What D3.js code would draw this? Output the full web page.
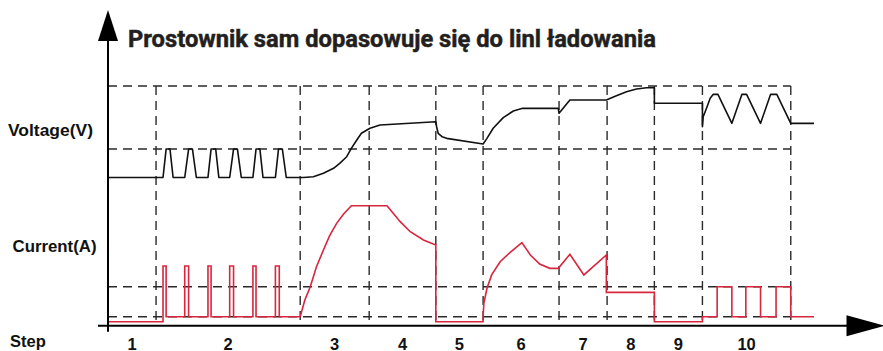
<!DOCTYPE html>
<html>
<head>
<meta charset="utf-8">
<script src="https://cdn.jsdelivr.net/npm/d3@7"></script>
<style>
  html, body { margin: 0; padding: 0; background: #ffffff; }
  svg { display: block; }
</style>
</head>
<body>
<svg id="chart" width="883" height="351"></svg>
<script>
// Charging step boundaries (time units) and their labels
const stepBounds = [0, 6.2, 24.8, 33.7, 42.3, 48.4, 58.2, 64.4, 70.5, 76.7, 88.1];
const stepLabels = ["1", "2", "3", "4", "5", "6", "7", "8", "9", "10"];

// Reference levels (relative %) for the dashed guide lines
const voltageRefLevels = [31.1, 100];
const currentRefLevels = [7.5, 32.5];

// Voltage profile: [time, relative level]
const voltage = [
  [0, 0], [7.1, 0], [7.5, 31.1], [8.0, 31.1], [8.4, 0],
  [9.9, 0], [10.4, 31.1], [10.9, 31.1], [11.4, 0],
  [12.9, 0], [13.3, 31.1], [13.9, 31.1], [14.3, 0],
  [15.7, 0], [16.2, 31.1], [16.7, 31.1], [17.2, 0],
  [18.7, 0], [19.1, 31.1], [19.6, 31.1], [20.0, 0],
  [21.6, 0], [22.0, 31.1], [22.5, 31.1], [23.0, 0],
  [25.2, 0], [26.5, 0.9], [27.8, 4.6], [29.1, 10.1], [29.9, 15.5], [30.8, 22.7],
  [31.4, 31.9], [32.1, 41.0], [32.7, 48.3], [33.8, 53.8], [35.1, 57.4],
  [42.3, 61.0], [42.4, 55.5], [42.6, 48.3], [43.1, 44.6], [43.7, 42.8], [48.4, 36.6],
  [48.9, 42.8], [49.7, 53.8], [51.0, 65.4], [52.3, 72.7], [53.5, 75.6], [58.1, 75.6],
  [58.2, 70.2], [59.6, 84.7], [64.3, 84.7], [65.6, 89.4], [66.9, 93.8], [68.2, 96.7],
  [69.5, 98.1], [70.5, 98.1], [70.5, 81.1], [76.7, 81.1], [76.7, 55.5], [76.8, 66.4],
  [77.3, 77.4], [77.7, 86.6], [78.1, 90.9], [78.7, 90.9], [80.5, 59.2], [81.8, 90.9],
  [82.4, 90.9], [84.2, 59.2], [85.5, 90.9], [86.3, 90.9], [88.1, 59.2], [91.1, 59.2]
];

// Current profile: [time, relative level]
const current = [
  [0, 3.3], [7.1, 3.3], [7.1, 49.8], [7.5, 49.8], [7.5, 7.5],
  [9.9, 7.5], [9.9, 49.8], [10.4, 49.8], [10.4, 7.5],
  [12.9, 7.5], [12.9, 49.8], [13.3, 49.8], [13.3, 7.5],
  [15.7, 7.5], [15.7, 49.8], [16.2, 49.8], [16.2, 7.5],
  [18.7, 7.5], [18.7, 49.8], [19.1, 49.8], [19.1, 7.5],
  [21.6, 7.5], [21.6, 49.8], [22.1, 49.8], [22.1, 7.5],
  [24.8, 7.5], [25.4, 21.4], [26.1, 32.5], [26.9, 49.2], [27.8, 63.1], [28.6, 75],
  [29.5, 85.3], [30.4, 93.1], [31.4, 100],
  [36.0, 100], [36.8, 93.7], [37.7, 86.7], [39.0, 78.3], [40.7, 71.4], [42.3, 67.3], [42.3, 3.3],
  [48.4, 3.3], [48.4, 7.5], [48.5, 18.7], [48.9, 31.2], [49.5, 42.3], [50.6, 53.3],
  [51.9, 61.2], [53.4, 69.2], [54.5, 58.9], [55.7, 51.4], [57.0, 47.8], [58.1, 47.8],
  [59.6, 59.5], [61.4, 42.3], [64.3, 58.9], [64.3, 27.8],
  [70.5, 27.8], [70.5, 3.3], [76.7, 3.3], [76.7, 7.5], [78.6, 7.5], [78.6, 32.5],
  [80.5, 32.5], [80.5, 7.5], [82.3, 7.5], [82.3, 32.5], [84.2, 32.5], [84.2, 7.5],
  [86.2, 7.5], [86.2, 32.5], [88.1, 32.5], [88.1, 7.5], [91.1, 7.5]
];

const titleText = "Prostownik sam dopasowuje się do linl ładowania";

const svg = d3.select("#chart");

// Scales: shared time axis, separate panels for voltage and current
const x = d3.scaleLinear().domain([0, 100]).range([108, 883]);
const yV = d3.scaleLinear().domain([0, 100]).range([177.5, 86]);
const yI = d3.scaleLinear().domain([0, 100]).range([325.7, 205.7]);

const tEnd = stepBounds[stepBounds.length - 1];
const guide = svg.append("g")
  .attr("fill", "none")
  .attr("stroke", "#2a2a2a")
  .attr("stroke-width", 1.4)
  .attr("stroke-dasharray", "9,6");

// Horizontal guide lines
guide.selectAll("line.v-ref")
  .data(voltageRefLevels)
  .join("line")
  .attr("class", "v-ref")
  .attr("x1", x(0)).attr("x2", x(tEnd))
  .attr("y1", d => yV(d)).attr("y2", d => yV(d));

guide.selectAll("line.i-ref")
  .data(currentRefLevels)
  .join("line")
  .attr("class", "i-ref")
  .attr("x1", x(0)).attr("x2", x(tEnd))
  .attr("y1", d => yI(d)).attr("y2", d => yI(d));

// Vertical step separators
guide.selectAll("line.step")
  .data(stepBounds.slice(1))
  .join("line")
  .attr("class", "step")
  .attr("x1", d => x(d)).attr("x2", d => x(d))
  .attr("y1", yV(100)).attr("y2", yI(0));

// Waveforms
svg.append("path")
  .datum(current)
  .attr("fill", "none")
  .attr("stroke", "#d7263d")
  .attr("stroke-width", 1.6)
  .attr("stroke-linejoin", "miter")
  .attr("d", d3.line().x(d => x(d[0])).y(d => yI(d[1])));

svg.append("path")
  .datum(voltage)
  .attr("fill", "none")
  .attr("stroke", "#111")
  .attr("stroke-width", 1.6)
  .attr("stroke-linejoin", "round")
  .attr("d", d3.line().x(d => x(d[0])).y(d => yV(d[1])));

// Axes with arrowheads
const axes = svg.append("g");
const x0 = x(0), yBase = yI(0);
axes.append("line")
  .attr("x1", x0).attr("x2", x0)
  .attr("y1", 38).attr("y2", yBase + 6)
  .attr("stroke", "#000").attr("stroke-width", 2);
axes.append("path")
  .attr("d", `M${x0},10 L${x0 - 10},41 L${x0 + 10},41 Z`)
  .attr("fill", "#000");
axes.append("line")
  .attr("x1", x0 - 10).attr("x2", 850)
  .attr("y1", yBase).attr("y2", yBase)
  .attr("stroke", "#000").attr("stroke-width", 2);
axes.append("path")
  .attr("d", `M885,${yBase} L846.5,${yBase - 10.5} L846.5,${yBase + 10.5} Z`)
  .attr("fill", "#000");

// Title
svg.append("text")
  .attr("x", 128)
  .attr("y", 46.8)
  .attr("font-family", "Roboto, 'Open Sans', sans-serif")
  .attr("font-weight", 700)
  .attr("font-size", 24.5)
  .attr("fill", "#231f20")
  .attr("stroke", "#231f20")
  .attr("stroke-width", 0.5)
  .attr("textLength", 528)
  .attr("lengthAdjust", "spacingAndGlyphs")
  .text(titleText);

// Panel labels
const labelFont = "'Liberation Sans', Arial, sans-serif";
svg.append("text")
  .attr("x", 8).attr("y", 135.5)
  .attr("font-family", labelFont).attr("font-weight", 700)
  .attr("font-size", 16.5).attr("fill", "#111")
  .attr("textLength", 85).attr("lengthAdjust", "spacingAndGlyphs")
  .text("Voltage(V)");
svg.append("text")
  .attr("x", 12.5).attr("y", 251.5)
  .attr("font-family", labelFont).attr("font-weight", 700)
  .attr("font-size", 16.5).attr("fill", "#111")
  .attr("textLength", 84).attr("lengthAdjust", "spacingAndGlyphs")
  .text("Current(A)");
svg.append("text")
  .attr("x", 10).attr("y", 347)
  .attr("font-family", labelFont).attr("font-weight", 700)
  .attr("font-size", 16.5).attr("fill", "#111")
  .text("Step");

// Step numbers centred in each interval
svg.selectAll("text.step-label")
  .data(stepLabels)
  .join("text")
  .attr("class", "step-label")
  .attr("x", (d, i) => x((stepBounds[i] + stepBounds[i + 1]) / 2))
  .attr("y", 349.5)
  .attr("text-anchor", "middle")
  .attr("font-family", labelFont).attr("font-weight", 700)
  .attr("font-size", 16.5).attr("fill", "#111")
  .text(d => d);
</script>
</body>
</html>
